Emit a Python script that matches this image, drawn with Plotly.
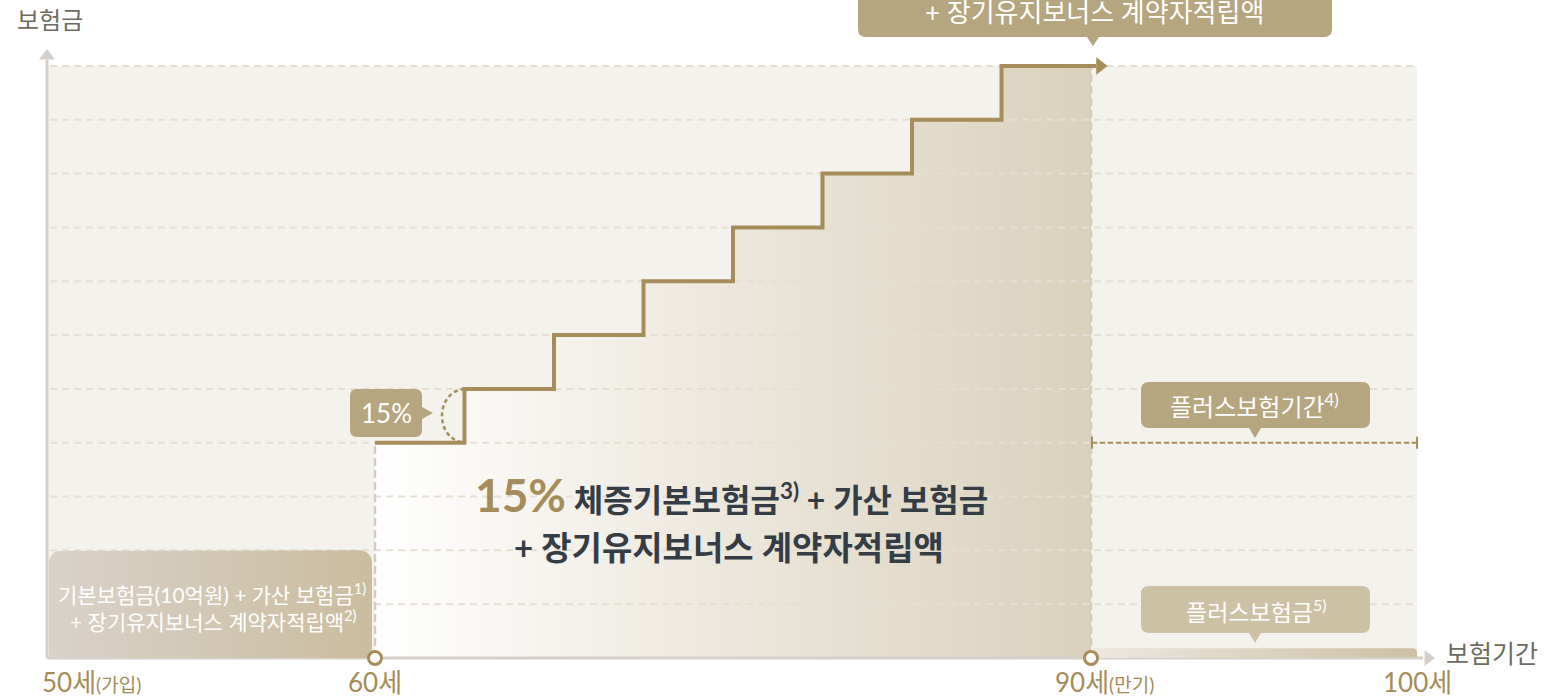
import numpy as np
import plotly.graph_objects as go

# ---------------- data ----------------
age_ticks = [50, 60, 90, 100]
age_tick_labels = ["50세", "60세", "90세", "100세"]
age_tick_notes = ["(가입)", "", "(만기)", ""]

step_ages = [60, 63.75, 67.5, 71.25, 75, 78.75, 82.5, 86.25, 90]
step_levels = [4, 5, 6, 7, 8, 9, 10, 11, 11]

base_period = [50, 60]
base_level = 2

plus_period = [90, 100]
plus_level = 0.18
plus_period_level = 4

grid_levels = [1, 2, 3, 4, 5, 6, 7, 8, 9, 10, 11]

# ---------------- geometry / style ----------------
W, H = 1560, 699
ORIGIN_PX = (47, 658)
PX_PER_X = 32.8
PX_PER_Y = 53.82
AGE_KNOTS = [50, 60, 90, 100]
POS_KNOTS = [0, 10, 31.83, 41.77]

GOLD = "#a68d5a"
TAN = "#b5a680"
TAN_LIGHT = "#cdc1a5"
AXIS_C = "#d6cec8"
GRID_C = "#e5dfd3"
PANEL_C = "#f4f2ec"
TXT_DARK = "#343d46"
TXT_GRAY = "#6c6b60"
TICK_C = "#a48b58"
FONT = "Lato, Noto Sans CJK KR, sans-serif"


def xpos(age):
    return np.interp(age, AGE_KNOTS, POS_KNOTS)


def dx(px):
    return px / PX_PER_X


def dy(px):
    return px / PX_PER_Y


def X(px):
    return (px - ORIGIN_PX[0]) / PX_PER_X


def Y(py):
    return (ORIGIN_PX[1] - py) / PX_PER_Y


def rounded_rect_pts(x0, x1, y0, y1, r_tl, r_tr, r_br, r_bl, n=10):
    xs, ys = [], []

    def arc(cx, cy, r, a0, a1):
        t = np.linspace(a0, a1, n)
        xs.extend(cx + dx(r) * np.cos(t))
        ys.extend(cy + dy(r) * np.sin(t))

    arc(x0 + dx(r_bl), y0 + dy(r_bl), r_bl, np.pi, 1.5 * np.pi)
    arc(x1 - dx(r_br), y0 + dy(r_br), r_br, 1.5 * np.pi, 2 * np.pi)
    arc(x1 - dx(r_tr), y1 - dy(r_tr), r_tr, 0, 0.5 * np.pi)
    arc(x0 + dx(r_tl), y1 - dy(r_tl), r_tl, 0.5 * np.pi, np.pi)
    xs.append(xs[0])
    ys.append(ys[0])
    return xs, ys


def P(px, py):
    return f"{X(px):.4f},{Y(py):.4f}"


def callout_path(l, t, r, b, rr, pointer):
    kind, tx, ty, hw = pointer
    s = f"M{P(l + rr, t)} L{P(r - rr, t)} Q{P(r, t)} {P(r, t + rr)} "
    if kind == "right":
        s += f"L{P(r, ty - hw)} L{P(tx, ty)} L{P(r, ty + hw)} "
    s += f"L{P(r, b - rr)} Q{P(r, b)} {P(r - rr, b)} "
    if kind == "down":
        s += f"L{P(tx + hw, b)} L{P(tx, ty)} L{P(tx - hw, b)} "
    s += f"L{P(l + rr, b)} Q{P(l, b)} {P(l, b - rr)} L{P(l, t + rr)} Q{P(l, t)} {P(l + rr, t)} Z"
    return s


fig = go.Figure()

# stair fill with gradient
sx = list(xpos(step_ages))
fig.add_trace(go.Scatter(
    x=sx, y=step_levels, mode="lines", line=dict(width=0, shape="hv"),
    fill="tozeroy",
    fillgradient=dict(type="horizontal",
                      colorscale=[[0, "#ffffff"], [0.5, "#ece7dc"], [1, "#dad1bd"]]),
    hoverinfo="skip", showlegend=False))

# gridlines
gx, gy = [], []
for lv in grid_levels:
    gx += [xpos(50) + dx(3), xpos(100), None]
    gy += [lv, lv, None]
fig.add_trace(go.Scatter(x=gx, y=gy, mode="lines",
                         line=dict(color=GRID_C, width=2, dash="7px,5px"),
                         hoverinfo="skip", showlegend=False))

# vertical dashed guides at 60 and 90
fig.add_trace(go.Scatter(
    x=[xpos(60), xpos(60), None, xpos(90), xpos(90)],
    y=[0, step_levels[0], None, 0, step_levels[-1]],
    mode="lines", line=dict(color="#d3cbc4", width=2.5, dash="8px,4px"),
    hoverinfo="skip", showlegend=False))

# axes lines
fig.add_trace(go.Scatter(
    x=[xpos(50), xpos(50), None, xpos(50), xpos(100) + dx(6)],
    y=[Y(60), 0, None, 0, 0],
    mode="lines", line=dict(color=AXIS_C, width=3),
    hoverinfo="skip", showlegend=False))
fig.add_trace(go.Scatter(
    x=[xpos(50), xpos(100) + dx(11)], y=[Y(56), 0],
    mode="markers", marker=dict(symbol=["triangle-up", "triangle-right"], size=14, color=AXIS_C),
    hoverinfo="skip", showlegend=False))

# pre-60 base box
bx, by = rounded_rect_pts(xpos(base_period[0]) + dx(2), xpos(base_period[1]) - dx(3),
                          0, base_level, 12, 12, 4, 4)
fig.add_trace(go.Scatter(
    x=bx, y=by, mode="lines", line=dict(width=0), fill="toself",
    fillgradient=dict(type="horizontal", colorscale=[[0, "#d9d2ca"], [1, "#cabc9e"]]),
    hoverinfo="skip", showlegend=False))

# plus bar after 90
px_, py_ = rounded_rect_pts(xpos(plus_period[0]) + dx(1), xpos(plus_period[1]),
                            0, plus_level, 0, 4, 1, 0)
fig.add_trace(go.Scatter(
    x=px_, y=py_, mode="lines", line=dict(width=0), fill="toself",
    fillgradient=dict(type="horizontal", colorscale=[[0, "#ece8e1"], [1, "#cdc0a3"]]),
    hoverinfo="skip", showlegend=False))

# plus period dashed line with end caps
fig.add_trace(go.Scatter(
    x=[xpos(90) + dx(1), xpos(100)], y=[plus_period_level] * 2, mode="lines",
    line=dict(color=GOLD, width=2, dash="5px,3px"), hoverinfo="skip", showlegend=False))
fig.add_trace(go.Scatter(
    x=[xpos(90) + dx(1), xpos(90) + dx(1), None, xpos(100), xpos(100)],
    y=[plus_period_level - dy(6), plus_period_level + dy(6), None,
       plus_period_level - dy(6), plus_period_level + dy(6)],
    mode="lines", line=dict(color=GOLD, width=2), hoverinfo="skip", showlegend=False))

# stair line
lx = sx + [xpos(90) + dx(5)]
ly = step_levels + [step_levels[-1]]
fig.add_trace(go.Scatter(x=lx, y=ly, mode="lines", line=dict(color=GOLD, width=4, shape="hv"),
                         hoverinfo="skip", showlegend=False))
fig.add_trace(go.Scatter(x=[xpos(90) + dx(9)], y=[step_levels[-1]], mode="markers",
                         marker=dict(symbol="triangle-right", size=15, color=GOLD),
                         hoverinfo="skip", showlegend=False))

# milestone circles
fig.add_trace(go.Scatter(x=[xpos(60), xpos(90)], y=[0, 0], mode="markers",
                         marker=dict(size=13, color="white", line=dict(color=GOLD, width=3)),
                         hoverinfo="skip", showlegend=False))

shapes = [
    dict(type="rect", xref="x", yref="y", x0=xpos(50), x1=xpos(100), y0=0, y1=grid_levels[-1],
         fillcolor=PANEL_C, line=dict(width=0), layer="below"),
    # top callout
    dict(type="path", xref="x", yref="y", layer="above", fillcolor=TAN, line=dict(width=0),
         path=callout_path(858, -40, 1332, 37, 8, ("down", 1093, 46, 6))),
    # 15% callout
    dict(type="path", xref="x", yref="y", layer="above", fillcolor=TAN, line=dict(width=0),
         path=callout_path(350, 389, 422, 437, 7, ("right", 433, 413, 6))),
    # plus period callout
    dict(type="path", xref="x", yref="y", layer="above", fillcolor=TAN, line=dict(width=0),
         path=callout_path(1141, 382, 1370, 428, 8, ("down", 1255, 438, 6))),
    # plus benefit callout
    dict(type="path", xref="x", yref="y", layer="above", fillcolor=TAN_LIGHT, line=dict(width=0),
         path=callout_path(1141, 586, 1370, 633, 8, ("down", 1255, 643, 6))),
]
# dashed arc at first step
xs1 = xpos(step_ages[1])
shapes.append(dict(
    type="path", xref="x", yref="y", layer="above",
    line=dict(color=GOLD, width=2.5, dash="4px,3px"),
    path=(f"M{xs1:.4f},{step_levels[1]:.4f} C{xs1 - dx(30):.4f},{step_levels[1] - dy(3):.4f} "
          f"{xs1 - dx(30):.4f},{step_levels[0] + dy(3):.4f} {xs1:.4f},{step_levels[0]:.4f}")))

ann = []


def add_text(x, y, text, size, color, xanchor="center", family=FONT):
    ann.append(dict(x=x, y=y, xref="x", yref="y", text=text, showarrow=False,
                    xanchor=xanchor, yanchor="middle",
                    font=dict(size=size, color=color, family=family)))


# axis titles
add_text(X(15), Y(19), "보험금", 24, TXT_GRAY, "left")
add_text(X(1444), Y(653), "보험기간", 25, TXT_GRAY, "left")

# x tick labels
tick_anchor = ["left", "center", "left", "center"]
tick_off = [-7, 0, -38, 0]
for a, lab, note, anc, off in zip(age_ticks, age_tick_labels, age_tick_notes, tick_anchor, tick_off):
    txt = lab + (f"<span style='font-size:19px'>{note}</span>" if note else "")
    add_text(xpos(a) + dx(off), Y(682), txt, 26, TICK_C, anc)

# main text
add_text(X(731), Y(494),
         "<b><span style='font-size:46px;color:#a58c5b'>15%</span> 체증기본보험금"
         "<sup>3)</sup> + 가산 보험금</b>", 32, TXT_DARK)
add_text(X(729), Y(547), "<b>+ 장기유지보너스 계약자적립액</b>", 33, TXT_DARK)

# base box text
add_text(X(212), Y(593), "기본보험금(10억원) + 가산 보험금<sup>1)</sup>", 21, "white")
add_text(X(213), Y(620), "+ 장기유지보너스 계약자적립액<sup>2)</sup>", 21, "white")

# callout texts
add_text(X(1094), Y(12), "+ 장기유지보너스 계약자적립액", 26, "white")
add_text(X(386), Y(413), "15%", 26, "white")
add_text(X(1254), Y(405), "플러스보험기간<sup>4)</sup>", 24, "white")
add_text(X(1256), Y(610), "플러스보험금<sup>5)</sup>", 23, "white")

fig.update_layout(
    width=W, height=H, margin=dict(l=0, r=0, t=0, b=0),
    paper_bgcolor="white", plot_bgcolor="white",
    xaxis=dict(range=[X(0), X(W)], visible=False, fixedrange=True),
    yaxis=dict(range=[Y(H), Y(0)], visible=False, fixedrange=True),
    shapes=shapes, annotations=ann, showlegend=False,
)

fig.write_html("out.html")
